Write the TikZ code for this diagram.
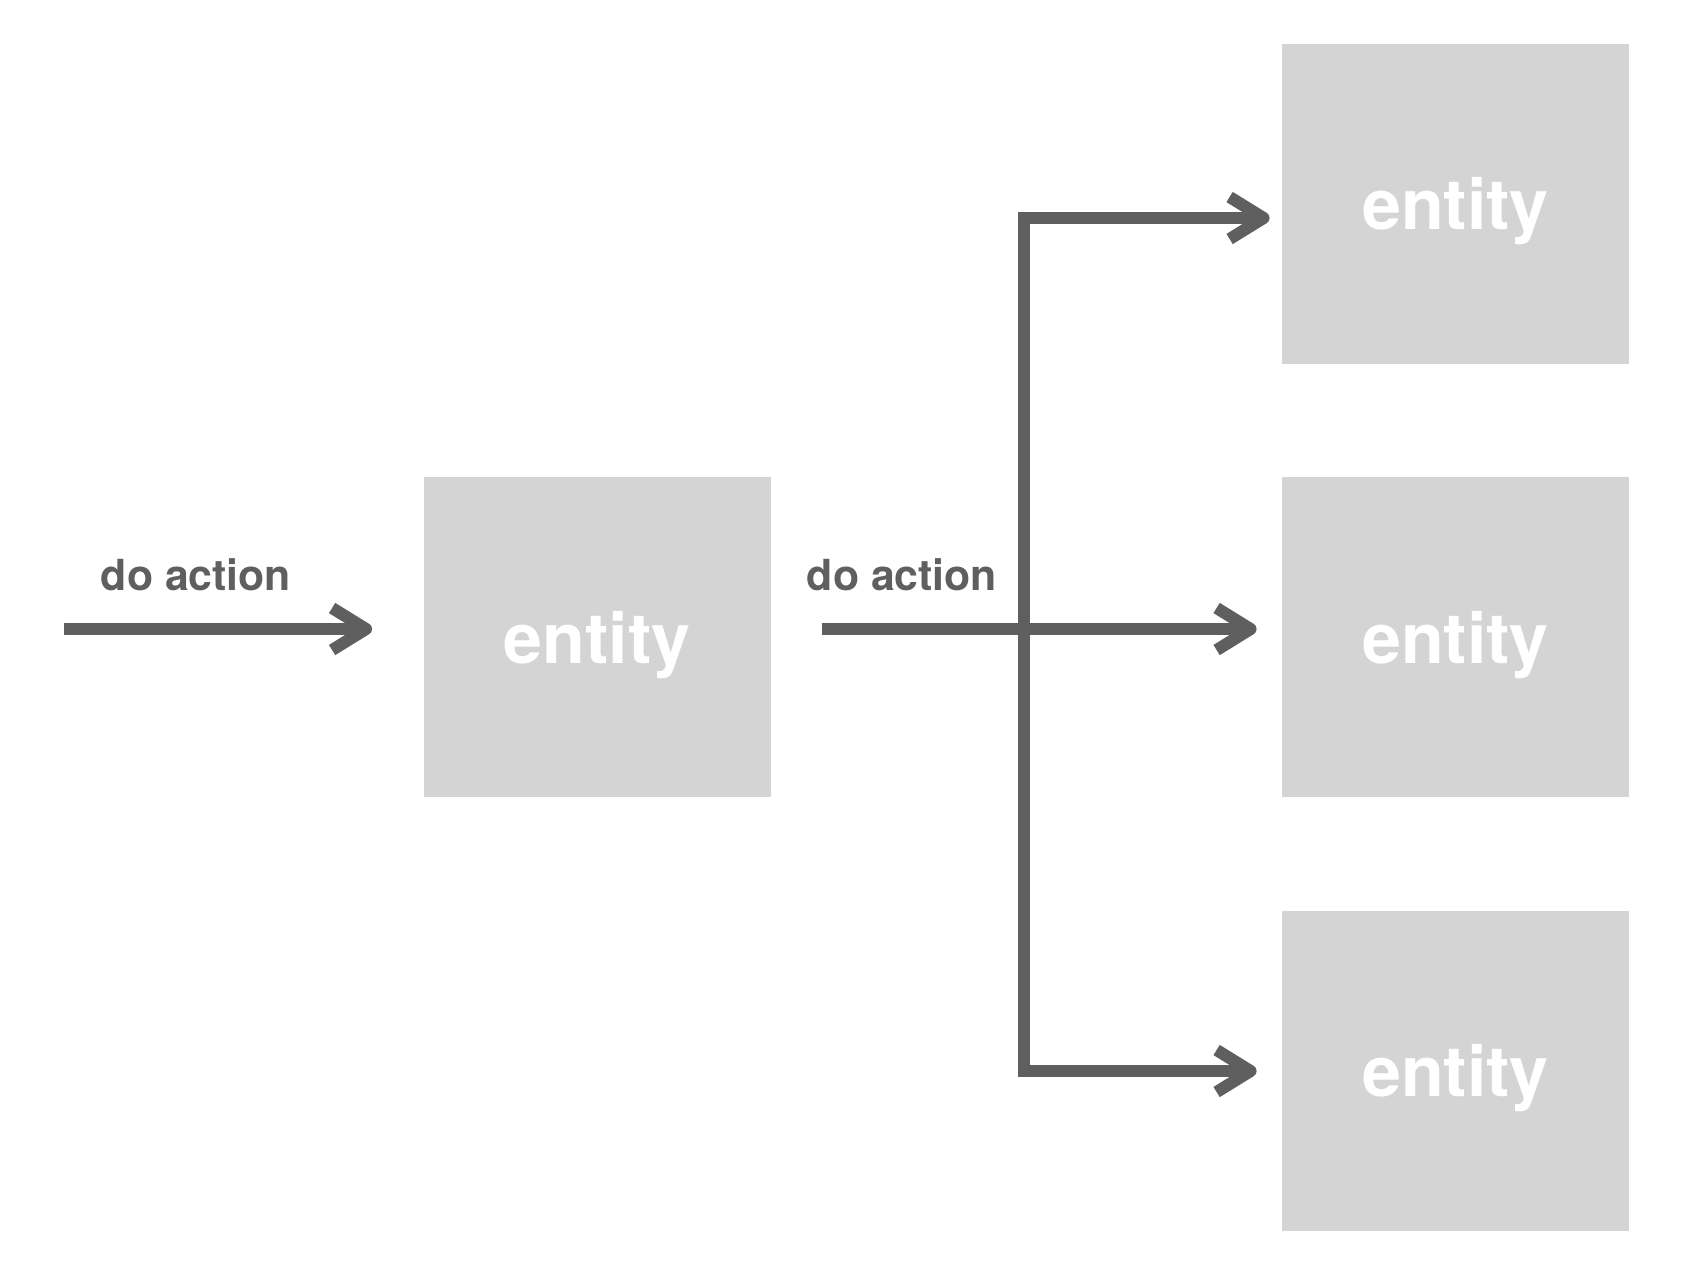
\documentclass[tikz,border=0pt]{standalone}
\usepackage{fontspec}
\setmainfont{TeX Gyre Heros}
\usetikzlibrary{arrows.meta}
\definecolor{flowgray}{HTML}{5F5F5F}
\definecolor{boxgray}{HTML}{D4D4D4}
\begin{document}
\begin{tikzpicture}[x=0.5pt, y=-0.5pt,
		entity/.style={fill=boxgray, minimum width=173.5pt, minimum height=160pt, inner sep=0pt, text=white, text depth=0pt, font=\bfseries\fontsize{35}{40}\selectfont},
		act/.style={anchor=base, inner sep=0pt, text=flowgray, font=\bfseries\fontsize{21.4}{25}\selectfont},
		flow/.style={draw=flowgray, line width=6pt, -{Straight Barb[length=17pt, width=21pt, line join=round]}}]
		\useasboundingbox(0, 0)rectangle(1700, 1266);
		\node[entity](src)at(597, 637){entity};
		\node[entity](dstA)at(1455.5, 203.5){entity};
		\node[entity](dstB)at(1455.5, 637){entity};
		\node[entity](dstC)at(1455.5, 1070.5){entity};
		\node[act](actA)at(196, 590){do action};
		\node[act](actB)at(902, 590){do action};
		\coordinate(in)at(64, 629);
		\coordinate(out)at(822, 629);
		\coordinate(split)at(1024, 629);
		\coordinate(top)at(1024, 218);
		\coordinate(bot)at(1024, 1071);
		\draw[flow](in)--([xshift=-25.5pt]src.west |- in);
		\draw[flow](out)--([xshift=-12.5pt]dstB.west |- out);
		\draw[flow](split)|-([xshift=-6pt]dstA.west |- top);
		\draw[flow](split)|-([xshift=-12.5pt]dstC.west |- bot);
	\end{tikzpicture}
\end{document}
